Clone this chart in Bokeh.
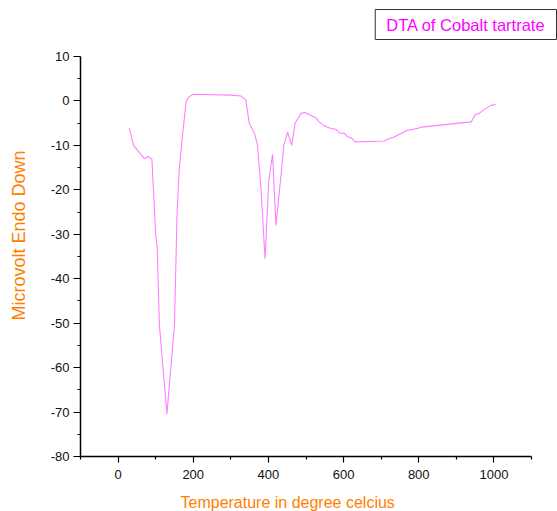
from bokeh.plotting import figure
from bokeh.models import Title, FixedTicker, Range1d, LinearAxis, CustomJSTickFormatter
from bokeh.embed import file_html
from bokeh.resources import INLINE

# Temperature (degree celcius)
temperature = [30, 41, 70, 79, 90, 100, 104, 110, 130, 150, 157, 163, 172, 181,
               187, 200, 300, 327, 340, 349, 363, 371, 380, 391, 401, 411, 420,
               434, 441, 451, 462, 471, 487, 497, 509, 526, 535, 549, 566, 580,
               589, 602, 611, 620, 631, 708, 721, 735, 753, 769, 784, 801, 806,
               940, 950, 961, 974, 992, 1005]
# Microvolt (Endo Down)
microvolt = [-6.1, -10.0, -13.0, -12.5, -13.1, -30.0, -33.0, -50.5, -70.4, -50.5,
             -25.0, -15.0, -7.3, -0.2, 0.8, 1.5, 1.3, 1.1, 0.2, -5.0, -7.3, -10.0,
             -19.4, -35.5, -17.9, -12.0, -28.0, -16.3, -10.0, -7.0, -10.0, -5.0,
             -2.8, -2.6, -3.1, -3.8, -4.7, -5.6, -6.2, -6.4, -7.2, -7.3, -8.1, -8.3,
             -9.2, -9.0, -8.5, -8.1, -7.3, -6.6, -6.4, -6.1, -5.9, -4.7, -3.1, -2.8,
             -1.9, -1.0, -0.8]

x_major = [0, 200, 400, 600, 800, 1000]
x_minor = [-100, 100, 300, 500, 700, 900, 1100]
y_major = [10, 0, -10, -20, -30, -40, -50, -60, -70, -80]
y_minor = [5, -5, -15, -25, -35, -45, -55, -65, -75]

legend_text = "DTA of Cobalt tartrate"
x_label = "Temperature in degree celcius"
y_label = "Microvolt Endo Down"

FONT = "Liberation Sans"

p = figure(width=557, height=511, output_backend="svg", toolbar_location=None,
           x_range=Range1d(-100, 1100), y_range=Range1d(-80, 10),
           x_axis_location=None, y_axis_location=None, title=None)
p.min_border_left = 80
p.min_border_right = 26
p.min_border_top = 56
p.min_border_bottom = 55
p.outline_line_color = None
p.background_fill_color = "white"
p.border_fill_color = "white"

fmt = CustomJSTickFormatter(code="return tick.toString();")
xa = LinearAxis(ticker=FixedTicker(ticks=x_major, minor_ticks=x_minor), formatter=fmt)
ya = LinearAxis(ticker=FixedTicker(ticks=y_major, minor_ticks=y_minor), formatter=fmt)
for ax in (xa, ya):
    ax.axis_line_color = "black"
    ax.axis_line_width = 1.5
    ax.major_tick_line_color = "black"
    ax.minor_tick_line_color = "black"
    ax.major_tick_line_width = 1.2
    ax.minor_tick_line_width = 1.2
    ax.major_tick_in = 0
    ax.minor_tick_in = 0
    ax.major_label_text_font = FONT
    ax.major_label_text_font_size = "13px"
    ax.major_label_text_color = "#111111"
xa.major_tick_out = 6
xa.minor_tick_out = 3
xa.major_label_standoff = 7
ya.major_tick_out = 7
ya.minor_tick_out = 3
ya.major_label_standoff = 4
p.add_layout(xa, "below")
p.add_layout(ya, "left")

p.xgrid.visible = False
p.ygrid.visible = False

p.line(temperature, microvolt, line_color="#ff80ff", line_width=1.1)

# axis titles as side titles (offset from frame edge)
p.add_layout(Title(text=x_label, align="left", offset=100, standoff=0,
                   padding=(0, 0, 10, 0),
                   text_font=FONT, text_font_size="16px", text_font_style="normal",
                   text_color="#ff8000"), "below")
p.add_layout(Title(text=y_label, align="left", offset=136, standoff=0,
                   padding=(0, 0, 0, 19),
                   text_font=FONT, text_font_size="18px", text_font_style="normal",
                   text_color="#ff8000"), "left")

# spacer between frame and legend box, then the legend box
p.add_layout(Title(text=" ", text_font_size="1px", standoff=14), "above")
p.add_layout(Title(text=legend_text, align="right", offset=-25, standoff=0,
                   text_font=FONT, text_font_size="16.5px", text_font_style="normal",
                   text_color="#ff00ff", border_line_color="#333333",
                   border_line_width=1, background_fill_color="white",
                   padding=(11, 6)), "above")

open("out.html", "w").write(file_html(p, INLINE))
